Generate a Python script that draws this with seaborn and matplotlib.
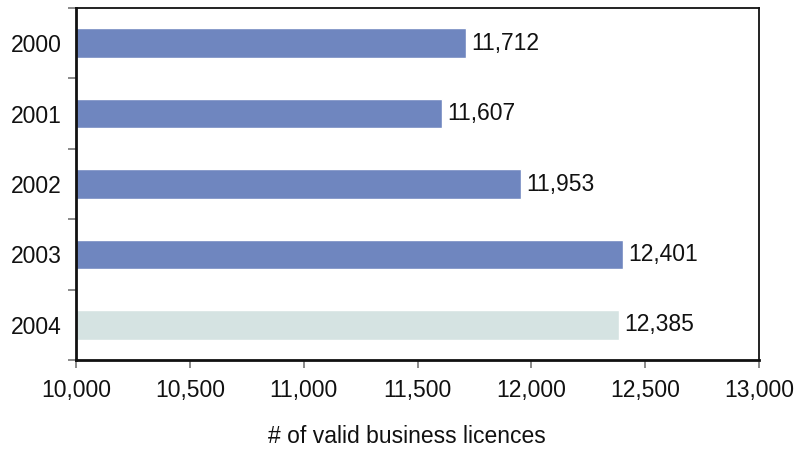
import matplotlib
matplotlib.use("Agg")
import matplotlib.pyplot as plt
import seaborn as sns
import pandas as pd

years = ["2000", "2001", "2002", "2003", "2004"]
licences = [11712, 11607, 11953, 12401, 12385]
bar_colors = ["#6F86BF", "#6F86BF", "#6F86BF", "#6F86BF", "#D5E3E2"]
x_ticks = [10000, 10500, 11000, 11500, 12000, 12500, 13000]

sns.set_theme(style="white")
plt.rcParams["font.family"] = ["Liberation Sans", "DejaVu Sans"]

df = pd.DataFrame({"year": years, "licences": licences})

FS = 16.5

fig = plt.figure(figsize=(7.98, 4.5), dpi=100)
ax = fig.add_axes([76/798, 1 - 360/450, (759-76)/798, (360-8)/450])

sns.barplot(data=df, y="year", x="licences", hue="year", palette=bar_colors,
            orient="h", width=0.42, legend=False, ax=ax, saturation=1)

ax.set_xlim(10000, 13000)
ax.set_ylim(4.5, -0.5)
ax.set_xticks(x_ticks)
ax.set_xticklabels([f"{v:,}" for v in x_ticks], fontsize=FS, color="#111111")
ax.set_yticks(range(len(years)))
ax.set_yticklabels(years, fontsize=FS, color="#111111")
ax.tick_params(axis="y", length=0, pad=10)
ax.set_yticks([i + 0.5 for i in range(-1, len(years))], minor=True)
ax.tick_params(axis="y", which="minor", length=6, width=1.2, color="#777777", direction="out", left=True)
ax.tick_params(axis="x", length=6, width=1.2, color="#777777", direction="out", bottom=True, pad=8)
ax.set_ylabel("")
ax.set_xlabel("# of valid business licences", fontsize=FS, color="#111111", labelpad=16)
ax.xaxis.label.set_x((407 - 76) / 683)

for s in ax.spines.values():
    s.set_visible(True)
    s.set_color("#111111")
    s.set_linewidth(1.3)
ax.spines["left"].set_linewidth(2)
ax.spines["bottom"].set_linewidth(2)

for i, v in enumerate(licences):
    ax.annotate(f"{v:,}", xy=(v, i), xytext=(4, 0), textcoords="offset points",
                va="center", ha="left", fontsize=FS, color="#111111")

fig.savefig("out.png", dpi=100)
